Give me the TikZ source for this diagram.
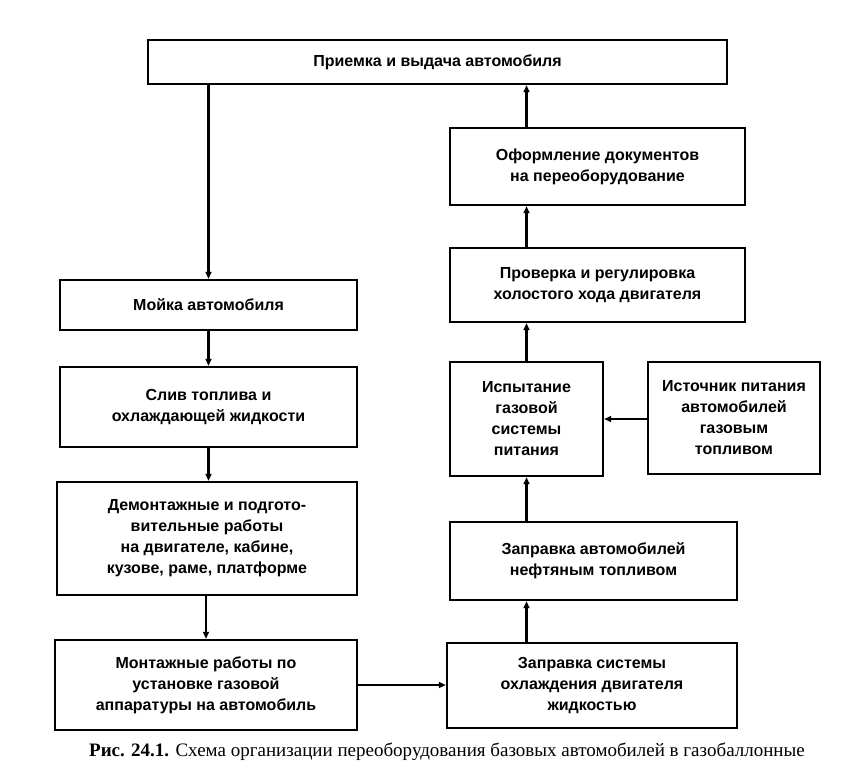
\documentclass[tikz,border=0pt]{standalone}
\usepackage{fontspec}
\setmainfont{Liberation Sans}
\newfontfamily\capfont{Liberation Serif}
\usetikzlibrary{arrows.meta}
\begin{document}
\begin{tikzpicture}[x=1pt,y=-1pt,
  box/.style={draw, line width=2.4pt, inner sep=0pt, align=center,
    font=\bfseries\fontsize{16}{21}\selectfont},
  arr/.style={line width=2.2pt, -{Triangle[length=7pt,width=6pt]}}]
\useasboundingbox (0,0) rectangle (850,776);
\node[box, minimum width=579pt, minimum height=44pt] (top) at (437.5,62) {Приемка и выдача автомобиля};
\node[box, minimum width=295pt, minimum height=77pt] (ofo) at (597.5,166.5) {Оформление документов\\на переоборудование};
\node[box, minimum width=295pt, minimum height=74pt] (prov) at (597.5,285) {Проверка и регулировка\\холостого хода двигателя};
\node[box, minimum width=153pt, minimum height=114pt] (isp) at (526.5,419) {Испытание\\газовой\\системы\\питания};
\node[box, minimum width=172pt, minimum height=112pt] (ist) at (734,418) {Источник питания\\автомобилей\\газовым\\топливом};
\node[box, minimum width=287pt, minimum height=78pt] (zap1) at (593.5,561) {Заправка автомобилей\\нефтяным топливом};
\node[box, minimum width=290pt, minimum height=85pt] (zap2) at (592,685.5) {Заправка системы\\охлаждения двигателя\\жидкостью};
\node[box, minimum width=297pt, minimum height=50pt] (moy) at (208.5,305) {Мойка автомобиля};
\node[box, minimum width=297pt, minimum height=80pt] (sliv) at (208.5,407) {Слив топлива и\\охлаждающей жидкости};
\node[box, minimum width=300pt, minimum height=113pt] (dem) at (207,538.5) {Демонтажные и подгото-\\вительные работы\\на двигателе, кабине,\\кузове, раме, платформе};
\node[box, minimum width=302pt, minimum height=90pt] (mon) at (206,685) {Монтажные работы по\\установке газовой\\аппаратуры на автомобиль};
\node[font=\capfont\fontsize{19}{21}\selectfont] (cap) at (447,752) {\textbf{Рис. 24.1.} Схема организации переоборудования базовых автомобилей в газобаллонные};
% left column
\draw[arr] (top.south -| moy) -- (moy.north);
\draw[arr] (moy.south) -- (sliv.north);
\draw[arr] (sliv.south) -- (dem.north -| sliv.south);
\draw[arr] (dem.south -| mon.north) -- (mon.north);
\draw[arr] (mon.east) -- (zap2.west |- mon.east);
% right column
\draw[arr] (zap2.north -| isp) -- (zap1.south -| isp);
\draw[arr] (zap1.north -| isp) -- (isp.south);
\draw[arr] (ist.west |- isp.east) -- (isp.east);
\draw[arr] (isp.north) -- (prov.south -| isp);
\draw[arr] (prov.north -| isp) -- (ofo.south -| isp);
\draw[arr] (ofo.north -| isp) -- (top.south -| isp);
\end{tikzpicture}
\end{document}
